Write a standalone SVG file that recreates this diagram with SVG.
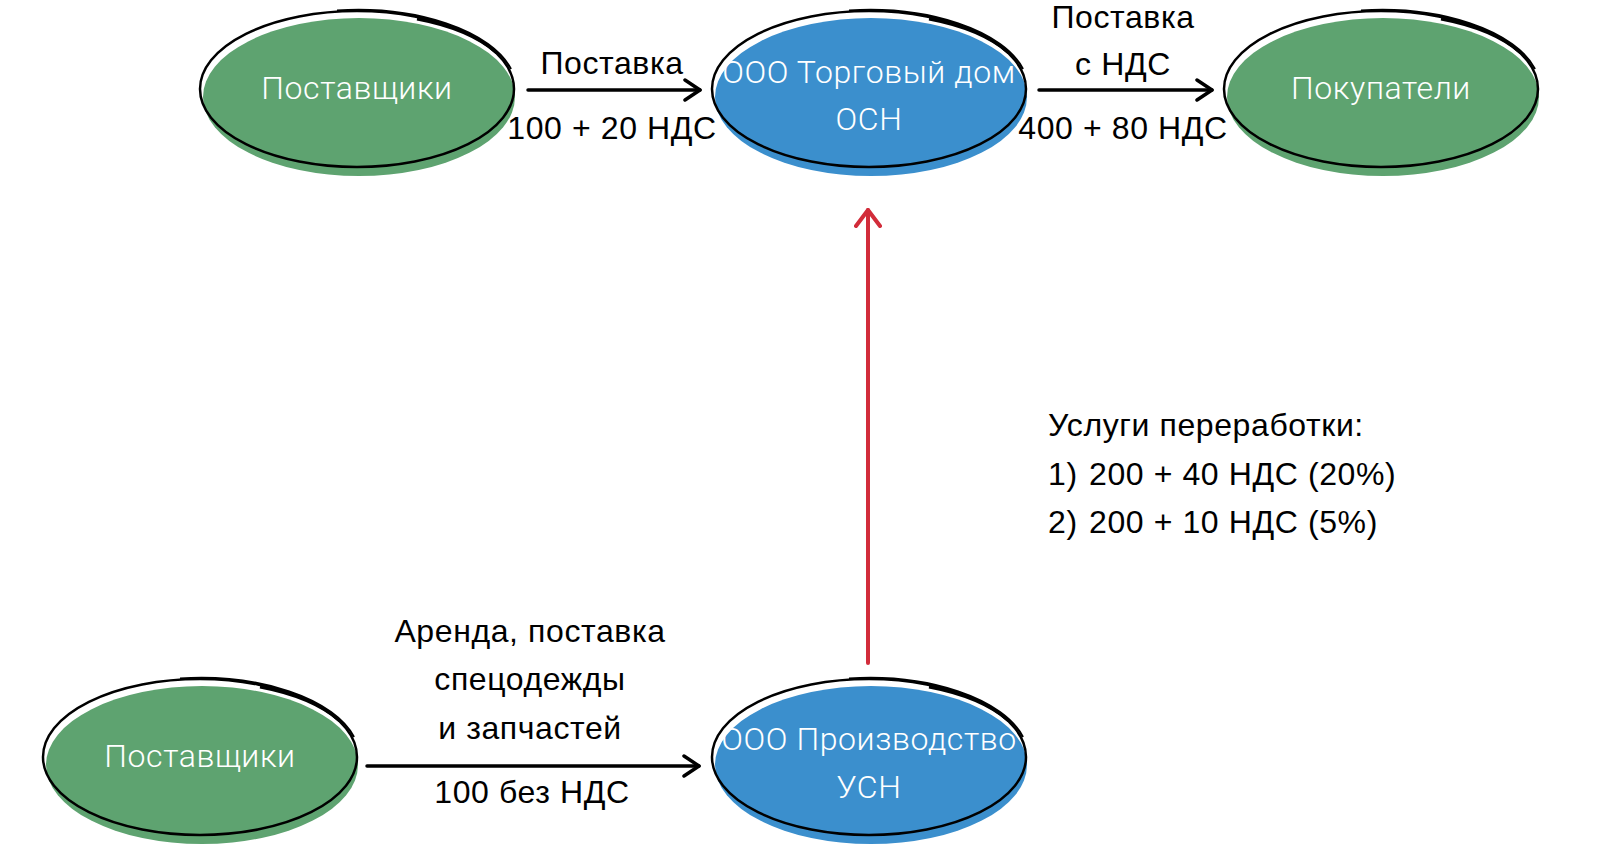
<svg xmlns="http://www.w3.org/2000/svg" xmlns:xlink="http://www.w3.org/1999/xlink" width="1600" height="845" viewBox="0 0 1600 845">
<style>
.lbl{font-family:"Liberation Sans",Arial,sans-serif;font-size:32px;letter-spacing:0.6px;fill:#000;text-anchor:middle}
.lft{text-anchor:start}
.nt{font-family:Roboto,"Liberation Sans",sans-serif;font-weight:300;font-size:32px;letter-spacing:0.6px;fill:#fff;text-anchor:middle}
.green{fill:#5ea370}
.blue{fill:#3b8fcd}
.edge{stroke:#000;stroke-width:3.5;fill:none;stroke-linecap:round}
.red{stroke:#d22c3a;stroke-width:4;fill:none;stroke-linecap:round}
</style>
<defs>
<g id="blob">
<ellipse cx="2" cy="8" rx="156" ry="79"/>
<ellipse cx="0" cy="0" rx="157" ry="78" fill="none" stroke="#000" stroke-width="2.5"/>
<path d="M-20,-78.5 A159 79 0 0 1 154,-20" fill="none" stroke="#000" stroke-width="2"/>
<path d="M60,-70 A156 76 0 0 1 140,-36" fill="none" stroke="#000" stroke-width="3"/>
</g>
<marker id="ah" viewBox="0 0 20 24" refX="18" refY="12" markerWidth="20" markerHeight="24" markerUnits="userSpaceOnUse" orient="auto">
<path d="M3,2 L18,12 L3,22" fill="none" stroke="#000" stroke-width="3.5" stroke-linecap="round" stroke-linejoin="round"/>
</marker>
<marker id="ahr" viewBox="0 0 22 28" refX="20" refY="14" markerWidth="22" markerHeight="28" markerUnits="userSpaceOnUse" orient="auto">
<path d="M4,2 L20,14 L4,26" fill="none" stroke="#d22c3a" stroke-width="4" stroke-linecap="round" stroke-linejoin="round"/>
</marker>
</defs>
<rect width="1600" height="845" fill="#fff"/>
<g id="connectors">
<line class="edge" x1="528" y1="90" x2="700" y2="90" marker-end="url(#ah)"/>
<line class="edge" x1="1039" y1="90" x2="1212" y2="90" marker-end="url(#ah)"/>
<line class="edge" x1="367" y1="766" x2="699" y2="766" marker-end="url(#ah)"/>
<line class="red" x1="868" y1="663" x2="868" y2="210" marker-end="url(#ahr)"/>
<text class="lbl" x="612" y="74">Поставка</text>
<text class="lbl" x="612" y="139">100 + 20 НДС</text>
<text class="lbl" x="1123" y="28">Поставка</text>
<text class="lbl" x="1123" y="75">с НДС</text>
<text class="lbl" x="1123" y="139">400 + 80 НДС</text>
<text class="lbl" x="530" y="642">Аренда, поставка</text>
<text class="lbl" x="530" y="690">спецодежды</text>
<text class="lbl" x="530" y="739">и запчастей</text>
<text class="lbl" x="532" y="803">100 без НДС</text>
</g>
<g id="node-suppliers-top" transform="translate(357,89)">
<use xlink:href="#blob" href="#blob" class="green"/>
<text class="nt" x="0" y="10">Поставщики</text>
</g>
<g id="node-trade-house" transform="translate(869,89)">
<use xlink:href="#blob" href="#blob" class="blue"/>
<text class="nt" x="0" y="-6">ООО Торговый дом</text>
<text class="nt" x="0" y="41">ОСН</text>
</g>
<g id="node-buyers" transform="translate(1381,89)">
<use xlink:href="#blob" href="#blob" class="green"/>
<text class="nt" x="0" y="10">Покупатели</text>
</g>
<g id="node-suppliers-bottom" transform="translate(200,757)">
<use xlink:href="#blob" href="#blob" class="green"/>
<text class="nt" x="0" y="10">Поставщики</text>
</g>
<g id="node-production" transform="translate(869,757)">
<use xlink:href="#blob" href="#blob" class="blue"/>
<text class="nt" x="0" y="-7">ООО Производство</text>
<text class="nt" x="0" y="41">УСН</text>
</g>
<g id="note">
<text class="lbl lft" x="1048" y="436">Услуги переработки:</text>
<text class="lbl lft" x="1048" y="485">1)<tspan x="1089">200 + 40 НДС (20%)</tspan></text>
<text class="lbl lft" x="1048" y="533">2)<tspan x="1089">200 + 10 НДС (5%)</tspan></text>
</g>
</svg>
